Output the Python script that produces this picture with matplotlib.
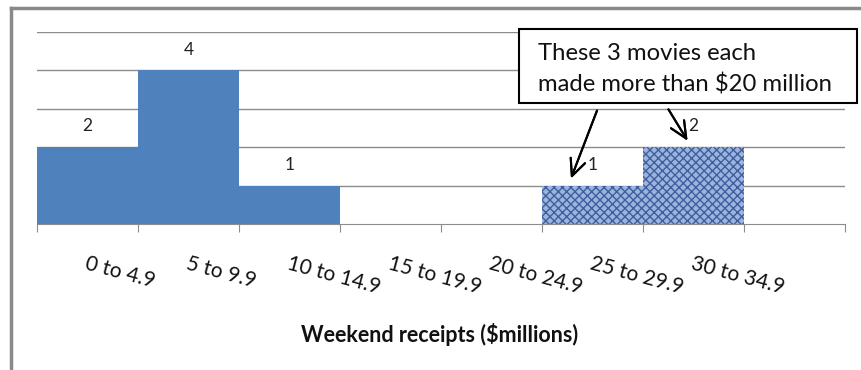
import matplotlib
matplotlib.use("Agg")
import matplotlib.pyplot as plt
from matplotlib.patches import Rectangle
from matplotlib.lines import Line2D

# Histogram data
bin_edges = [0, 5, 10, 15, 20, 25, 30, 35, 40]
counts = [2, 4, 1, 0, 0, 1, 2, 0]
bin_labels = ["0 to 4.9", "5 to 9.9", "10 to 14.9", "15 to 19.9",
              "20 to 24.9", "25 to 29.9", "30 to 34.9", ""]
highlight = [False, False, False, False, False, True, True, False]

plt.rcParams['font.family'] = ['Lato', 'DejaVu Sans']
plt.rcParams['hatch.linewidth'] = 1.0

W, H = 861, 370
fig = plt.figure(figsize=(W / 100, H / 100), dpi=100)
fig.patch.set_facecolor('white')

def fx(px):
    return px / W

def fy(py):
    return 1 - py / H

ax = fig.add_axes([fx(37), fy(224), fx(845) - fx(37), fy(32) - fy(224)])
ax.set_xlim(bin_edges[0], bin_edges[-1])
ax.set_ylim(0, 5)

# gridlines
for v in range(1, 6):
    ax.axhline(v, color='#8c8c8c', lw=1, zorder=0)

width = bin_edges[1] - bin_edges[0]
for left, c, hl in zip(bin_edges[:-1], counts, highlight):
    if c == 0:
        continue
    if hl:
        ax.bar(left, c, width=width, align='edge', facecolor='#9cb3de',
               edgecolor='#3e5f9f', hatch='xxxx', lw=0, zorder=2)
    else:
        ax.bar(left, c, width=width, align='edge', color='#4f81bd', lw=0, zorder=2)
    ax.annotate(str(c), (left + width / 2, c), xytext=(0, 15), textcoords='offset points',
                ha='center', va='center', fontsize=12.5, color='#222222')

for s in ['left', 'right', 'top']:
    ax.spines[s].set_visible(False)
ax.spines['bottom'].set_color('#8c8c8c')
ax.spines['bottom'].set_zorder(3)
ax.set_yticks([])
ax.set_xticks(bin_edges)
ax.set_xticklabels([])
ax.tick_params(axis='x', length=6, color='#8c8c8c', direction='out')

# rotated category labels
for left, lab in zip(bin_edges[:-1], bin_labels):
    if lab:
        ax.text(left + width / 2 - 0.1, -0.205, lab, transform=ax.get_xaxis_transform(),
                rotation=-15, rotation_mode='anchor', ha='left', va='center',
                fontsize=15, color='#111111')

fig.text(fx(440), fy(335), "Weekend receipts ($millions)", ha='center', va='center',
         fontsize=15.5, fontweight='bold', color='#111111')

# callout box
fig.add_artist(Rectangle((fx(519), fy(103)), fx(857) - fx(519), fy(29) - fy(103),
                         transform=fig.transFigure, facecolor='white',
                         edgecolor='black', lw=1.5, zorder=5))
fig.text(fx(538), fy(54), "These 3 movies each", ha='left', va='center',
         fontsize=17.2, color='#111111', zorder=6)
fig.text(fx(538), fy(85), "made more than $20 million", ha='left', va='center',
         fontsize=17.2, color='#111111', zorder=6)

arrow = dict(arrowstyle='->,head_length=1.2,head_width=0.55', color='black', lw=1.5)
fig.add_artist(plt.annotate('', xy=(fx(570), fy(181)), xytext=(fx(598), fy(108)),
                            xycoords='figure fraction', textcoords='figure fraction',
                            arrowprops=arrow))
fig.add_artist(plt.annotate('', xy=(fx(689), fy(143)), xytext=(fx(667), fy(107)),
                            xycoords='figure fraction', textcoords='figure fraction',
                            arrowprops=arrow))

# outer frame lines (left and top)
fig.add_artist(Line2D([fx(11), fx(11)], [0, fy(8)], color='#8a8a8a', lw=2.5))
fig.add_artist(Line2D([fx(11), 1], [fy(8), fy(8)], color='#8a8a8a', lw=2.5))

fig.savefig('out.png', dpi=100)
